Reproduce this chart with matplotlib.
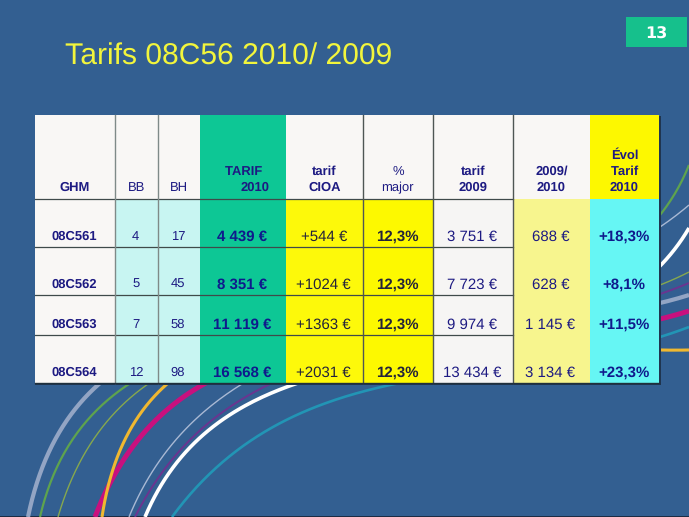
import numpy as np
import matplotlib
matplotlib.use("Agg")
import matplotlib.pyplot as plt
from matplotlib.patches import Rectangle

plt.rcParams['font.family'] = ['Liberation Sans', 'DejaVu Sans']
plt.rcParams['text.hinting'] = 'none'
plt.rcParams['text.hinting_factor'] = 1

# ---- values ----
title = "Tarifs 08C56 2010/ 2009"
slide_no = "13"
ghm = ["08C561", "08C562", "08C563", "08C564"]
bb = ["4", "5", "7", "12"]
bh = ["17", "45", "58", "98"]
tarif_2010 = ["4 439 €", "8 351 €", "11 119 €", "16 568 €"]
tarif_cioa = ["+544 €", "+1024 €", "+1363 €", "+2031 €"]
major = ["12,3%", "12,3%", "12,3%", "12,3%"]
tarif_2009 = ["3 751 €", "7 723 €", "9 974 €", "13 434 €"]
diff_0910 = ["688 €", "628 €", "1 145 €", "3 134 €"]
evol = ["+18,3%", "+8,1%", "+11,5%", "+23,3%"]
columns = [ghm, bb, bh, tarif_2010, tarif_cioa, major, tarif_2009, diff_0910, evol]
headers = ["GHM", "BB", "BH", None, "tarif\nCIOA", "%\nmajor", "tarif\n2009", "2009/\n2010", "Évol\nTarif\n2010"]

# ---- layout (pixels) ----
x_edges = [35, 115, 157.5, 199.5, 285.5, 363, 432.7, 513, 590, 659]
y_edges = [115, 198.5, 247, 295, 335, 383]
row_text_y = [235.5, 283.5, 323, 371.5]
header_fill = ["#f9f7f5", "#f9f7f5", "#f9f7f5", "#0dc795", "#f9f7f5", "#f9f7f5", "#f9f7f5", "#f9f7f5", "#fdf800"]
body_fill = ["#f9f7f5", "#c8f5f2", "#c8f5f2", "#0dc795", "#fdf90a", "#fdf900", "#f6f5f4", "#f7f58e", "#66f6f4"]
body_bold = [True, False, False, True, False, True, False, False, True]
body_size = [9.4, 9.6, 9.6, 10.8, 10.6, 10.8, 10.6, 10.6, 10.8]
text_col = "#1d1a82"
strong_col = "#0f1a8c"

# decorative arcs: colour, width, (bottom point, point at table bottom, two points right of table)
arcs = [
    ("#2295b5", 1.9, [(172, 517), (390, 385), (660, 337), (689, 327)]),
    ("#93a5c4", 3.0, [(28, 517), (99, 384), (660, 303), (689, 295)]),
    ("#5ea34e", 1.6, [(40, 517), (129, 384), (660, 215), (689, 165)]),
    ("#86a84e", 1.0, [(58, 517), (148, 384), (660, 285), (689, 272)]),
    ("#c8107e", 3.6, [(95, 517), (204, 384), (660, 319), (689, 311)]),
    ("#f0b830", 2.2, [(102, 517), (167, 384), (660, 350), (689, 350)]),
    ("#a9b9d4", 1.0, [(129, 517), (242, 384), (660, 227), (689, 205)]),
    ("#6a3590", 1.4, [(135, 517), (270, 384), (660, 294), (689, 283)]),
    ("#ffffff", 2.6, [(145, 517), (295, 384), (660, 266), (689, 228)]),
]

fig = plt.figure(figsize=(6.89, 5.17), dpi=100, facecolor="#335f91")
ax = fig.add_axes([0, 0, 1, 1])
ax.set_xlim(0, 689)
ax.set_ylim(517, 0)
ax.axis("off")

ax.add_patch(Rectangle((0, 516), 689, 1, fc="#1c2c44", ec="none", zorder=1))

def arc_curve(pts, n=200):
    pts = np.array(pts, float)
    d = np.r_[0, np.cumsum(np.hypot(*np.diff(pts, axis=0).T))]
    t = d / d[-1]
    s = np.linspace(0, 1, n)
    cx = np.polyfit(t, pts[:, 0], 3)
    cy = np.polyfit(t, pts[:, 1], 3)
    return np.polyval(cx, s), np.polyval(cy, s)

for color, lw, pts in arcs:
    x, y = arc_curve(pts)
    ax.plot(x, y, color=color, lw=lw, zorder=2, solid_capstyle="butt")

# table shadow
ax.add_patch(Rectangle((x_edges[0], y_edges[0] + 1), x_edges[-1] - x_edges[0] + 1.5,
                       y_edges[-1] - y_edges[0] + 0.5, fc="#1f3550", ec="none", zorder=3))

# cells
for c in range(9):
    x0, x1 = x_edges[c], x_edges[c + 1]
    ax.add_patch(Rectangle((x0, y_edges[0]), x1 - x0, y_edges[1] - y_edges[0],
                           fc=header_fill[c], ec="none", zorder=4))
    ax.add_patch(Rectangle((x0, y_edges[1]), x1 - x0, y_edges[-1] - y_edges[1],
                           fc=body_fill[c], ec="none", zorder=4))

# rules
grid = "#3f4a4a"
for y in y_edges[1:5]:
    ax.plot([x_edges[0], x_edges[7]], [y, y], color=grid, lw=0.9, zorder=5)
for i in [1, 2, 5, 6, 7]:
    ax.plot([x_edges[i], x_edges[i]], [y_edges[0], y_edges[-1]],
            color="#7f8a88" if i < 3 else "#4f5654", lw=1.0, zorder=5)
ax.plot([x_edges[0], x_edges[-1]], [y_edges[-1], y_edges[-1]], color="#20303c", lw=1.0, zorder=5)

# header text
line_y = {1: [186.2], 2: [170.5, 186.2], 3: [154.5, 170.5, 186.2]}
for c, head in enumerate(headers):
    if head is None:
        continue
    cx = (x_edges[c] + x_edges[c + 1]) / 2
    lines = head.split("\n")
    regular = c in (1, 2, 5)
    for ln, ly in zip(lines, line_y[len(lines)]):
        ax.text(cx, ly, ln, ha="center", va="center_baseline", color=text_col, zorder=6,
                fontsize=9.6, fontweight="normal" if regular else "bold")
ax.text(243.5, 170.5, "TARIF", ha="center", va="center_baseline", color=text_col, fontsize=9.6, fontweight="bold", zorder=6)
ax.text(255, 186.2, "2010", ha="center", va="center_baseline", color=text_col, fontsize=9.6, fontweight="bold", zorder=6)

# body text
for c, col in enumerate(columns):
    cx = (x_edges[c] + x_edges[c + 1]) / 2 - (0.5 if c != 7 else 1)
    colr = "#23233a" if c in (4, 5) else (strong_col if c in (3, 8) else text_col)
    for r, val in enumerate(col):
        ax.text(cx, row_text_y[r], val, ha="center", va="center_baseline", color=colr, zorder=6,
                fontsize=body_size[c], fontweight="bold" if body_bold[c] else "normal")

# title & badge
ax.text(65, 65, title, ha="left", va="baseline", color="#f2f53c", fontsize=21.8, zorder=6)
ax.add_patch(Rectangle((626, 17), 61, 30, fc="#16c08c", ec="none", zorder=4))
ax.text(656, 34, slide_no, ha="center", va="center", color="white", fontsize=11.5,
        fontweight="bold", family="DejaVu Sans", zorder=6)

fig.savefig("out.png", dpi=100, facecolor=fig.get_facecolor())
